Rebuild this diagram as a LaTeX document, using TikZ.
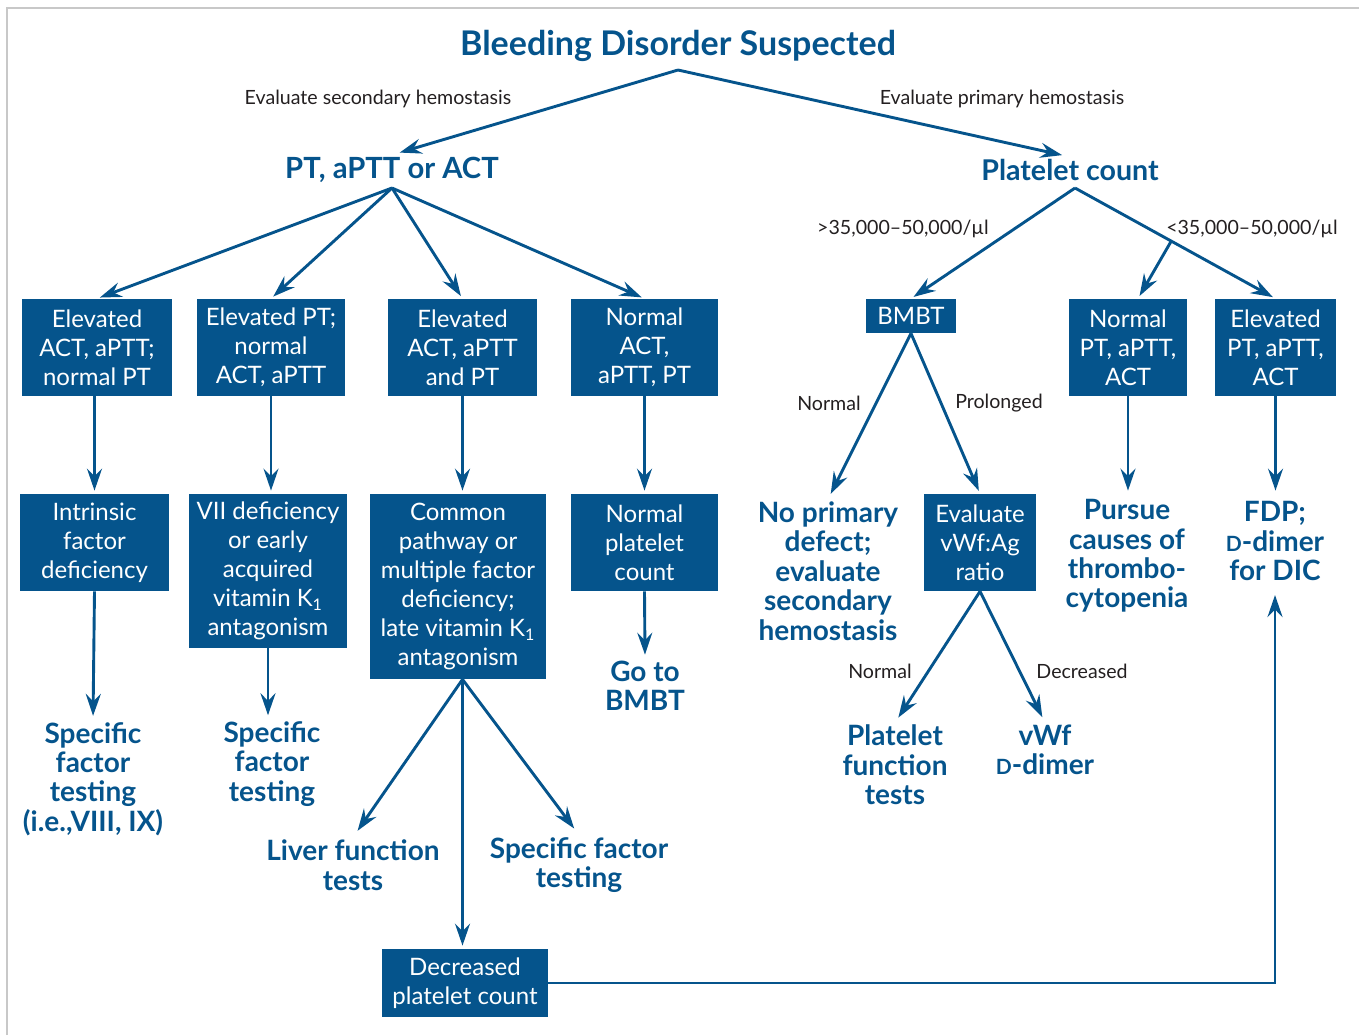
\documentclass[tikz,border=0pt]{standalone}
\usepackage{fontspec}
\setmainfont{Lato}
\usetikzlibrary{arrows.meta,calc}
\definecolor{bblue}{RGB}{5,84,140}
\definecolor{dtext}{RGB}{35,31,32}
\definecolor{fgray}{RGB}{200,200,200}
\begin{document}
\begin{tikzpicture}[x=0.5pt,y=-0.5pt,
 box/.style={fill=bblue,text=white,align=center,inner sep=0pt,font=\fontsize{12}{14.5}\selectfont},
 btxt/.style={text=bblue,align=center,font=\bfseries\fontsize{14}{14.7}\selectfont,inner sep=1pt},
 lbl/.style={text=dtext,font=\fontsize{9.8}{11}\selectfont,inner sep=0pt},
 arr/.style={draw=bblue,line width=1.45pt,-{Stealth[length=11pt,width=7.5pt,inset=3.8pt]}},
 conn/.style={draw=bblue,line width=1.45pt}]
\useasboundingbox (0,0) rectangle (1359,1035);
\draw[fgray,line width=0.8pt] (7,1035) -- (7,8) -- (1359,8);

% title and first level
\node[btxt,font=\bfseries\fontsize{17}{20}\selectfont] (title) at (678,46) {Bleeding Disorder Suspected};
\coordinate (tap) at (678,70);
\node[btxt,font=\bfseries\fontsize{14.6}{16}\selectfont] (pt) at (392,170) {PT, aPTT or ACT};
\node[btxt,font=\bfseries\fontsize{14.3}{16}\selectfont] (pc) at (1070,170) {Platelet count};
\node[lbl] (lsec) at (378,99) {Evaluate secondary hemostasis};
\node[lbl] (lpri) at (1002,99) {Evaluate primary hemostasis};
\coordinate (ptap) at (392,188);
\coordinate (pcap) at (1075,188);

% row 1 boxes
\node[box,minimum width=75pt,minimum height=48.5pt] (a1) at (97,347.5) {Elevated\\ACT, aPTT;\\normal PT};
\node[box,minimum width=74pt,minimum height=48.5pt] (a2) at (271,347.5) {Elevated PT;\\normal\\ACT, aPTT};
\node[box,minimum width=74.5pt,minimum height=48.5pt] (a3) at (462.5,347.5) {Elevated\\ACT, aPTT\\and PT};
\node[box,minimum width=73.5pt,minimum height=48.5pt] (a4) at (644.5,347.5) {Normal\\ACT,\\aPTT, PT};
\node[box,minimum width=45pt,minimum height=17pt] (bmbt) at (911,316) {BMBT};
\node[box,minimum width=59pt,minimum height=48.5pt] (r2) at (1128,347.5) {Normal\\PT, aPTT,\\ACT};
\node[box,minimum width=60.5pt,minimum height=48.5pt] (r3) at (1275.5,347.5) {Elevated\\PT, aPTT,\\ACT};
\node[lbl] (lgt) at (903,229) {>35,000--50,000/µl};
\node[lbl] (llt) at (1252,229) {<35,000--50,000/µl};

% row 2
\node[box,minimum width=74.5pt,minimum height=48.5pt] (b1) at (94.5,542.5) {Intrinsic\\factor\\deficiency};
\node[box,minimum width=79pt,minimum height=77pt] (b2) at (268,571) {VII deficiency\\or early\\acquired\\vitamin K\textsubscript{1}\\antagonism};
\node[box,minimum width=88pt,minimum height=92.5pt] (b3) at (458,586.5) {Common\\pathway or\\multiple factor\\deficiency;\\late vitamin K\textsubscript{1}\\antagonism};
\node[box,minimum width=73.5pt,minimum height=48.5pt] (b4) at (644.5,542.5) {Normal\\platelet\\count};
\node[btxt] (noprim) at (828,571) {No primary\\defect;\\evaluate\\secondary\\hemostasis};
\node[box,minimum width=56pt,minimum height=48.5pt] (ev) at (980,542.5) {Evaluate\\vWf:Ag\\ratio};
\node[btxt] (pursue) at (1127,556) {Pursue\\causes of\\thrombo-\\cytopenia};
\node[btxt] (fdp) at (1275,541) {FDP;\\{\fontsize{10.5}{10}\selectfont D}-dimer\\for DIC};
\node[lbl] (lnorm1) at (829,403) {Normal};
\node[lbl] (lprol) at (999,403) {Prolonged};

% row 3
\node[btxt] (spec1) at (93,779) {Specific\\factor\\testing\\(i.e.,VIII, IX)};
\node[btxt] (spec2) at (272,764) {Specific\\factor\\testing};
\node[btxt] (goto) at (645,686) {Go to\\BMBT};
\node[btxt] (liver) at (353,865) {Liver function\\tests};
\node[btxt] (specf) at (579,865) {Specific factor\\testing};
\node[box,minimum width=83pt,minimum height=34pt] (dec) at (465,983) {Decreased\\platelet count};
\node[btxt] (plt) at (895,765) {Platelet\\function\\tests};
\node[btxt] (vwf) at (1045,750) {vWf\\{\fontsize{10.5}{10}\selectfont D}-dimer};
\node[lbl] (lnorm2) at (880,671) {Normal};
\node[lbl] (ldec) at (1082,671) {Decreased};

% connectors
\draw[arr,shorten >=4pt] (tap) -- (pt.north);
\draw[arr,shorten >=4pt] (tap) -- (pc.north);
\draw[arr,shorten >=1.5pt] (ptap) -- (a1.north);
\draw[arr,shorten >=1.5pt] (ptap) -- (a2.north);
\draw[arr,shorten >=1.5pt] (ptap) -- (a3.north);
\draw[arr,shorten >=1.5pt] (ptap) -- (a4.north);
\draw[arr,shorten >=1.5pt] (pcap) -- (bmbt.north);
\draw[arr,shorten >=1.5pt] (pcap) -- (r3.north);
\path (pcap) -- (r3.north) coordinate[pos=0.48] (pcmid);
\draw[arr,shorten >=1.5pt] (pcmid) -- ($(r2.north)+(10,0)$);
\draw[arr,shorten >=1.5pt] (b1.north |- a1.south) -- (b1.north);
\draw[arr,shorten >=1.5pt] (a2.south) -- (a2.south |- b2.north);
\draw[arr,shorten >=1.5pt] (a3.south) -- (a3.south |- b3.north);
\draw[arr,shorten >=1.5pt] (a4.south) -- (a4.south |- b4.north);
\draw[arr,shorten >=1.5pt] (r2.south) -- (r2.south |- ev.north);
\draw[arr,shorten >=1.5pt] (r3.south) -- (r3.south |- ev.north);
\draw[arr,shorten >=3pt] (bmbt.south) -- (noprim.north);
\draw[arr,shorten >=1.5pt] (bmbt.south) -- (ev.north);
\draw[arr,shorten >=2pt] (b1.south) -- (spec1.north);
\draw[arr,shorten >=2pt] (b2.south) -- (b2.south |- spec2.north);
\draw[arr,shorten >=2pt] (b4.south) -- (goto.north);
\coordinate (b3ap) at (a3.south |- b3.south);
\draw[arr,shorten >=4pt] (b3ap) -- (liver.north);
\draw[arr,shorten >=4pt] (b3ap) -- (specf.north);
\draw[arr,shorten >=1.5pt] (b3ap) -- (b3ap |- dec.north);
\draw[arr,shorten >=3pt] (ev.south) -- (plt.north);
\draw[arr,shorten >=3pt] (ev.south) -- (vwf.north);
\draw[arr,shorten >=6pt] (dec.east) -- (dec.east -| fdp.south) -- (fdp.south);
\end{tikzpicture}
\end{document}
